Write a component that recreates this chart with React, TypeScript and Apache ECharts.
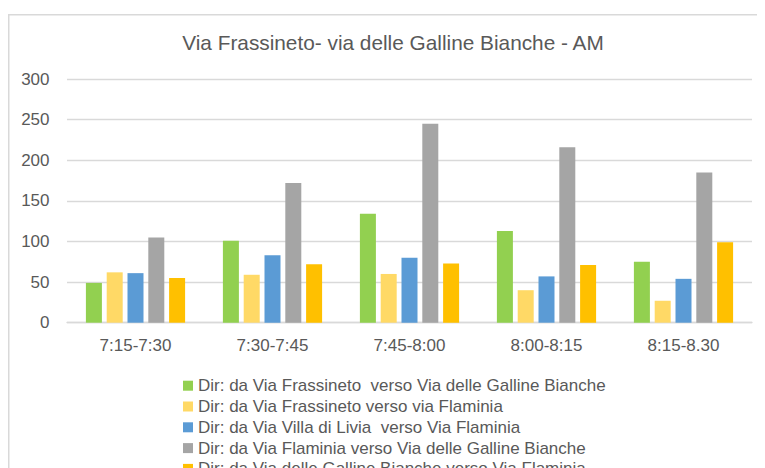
import React, { useEffect, useRef } from "react";
import * as echarts from "echarts";

const titleText = "Via Frassineto- via delle Galline Bianche - AM";
const categories = ["7:15-7:30", "7:30-7:45", "7:45-8:00", "8:00-8:15", "8:15-8.30"];
const seriesNames = [
  "Dir: da Via Frassineto  verso Via delle Galline Bianche",
  "Dir: da Via Frassineto verso via Flaminia",
  "Dir: da Via Villa di Livia  verso Via Flaminia",
  "Dir: da Via Flaminia verso Via delle Galline Bianche",
  "Dir: da Via delle Galline Bianche verso Via Flaminia",
];
const greenValues = [49, 101, 134, 113, 75];
const lightYellowValues = [62, 59, 60, 40, 27];
const blueValues = [61, 83, 80, 57, 54];
const grayValues = [105, 172, 245, 216, 185];
const orangeValues = [55, 72, 73, 71, 99];
const seriesColors = ["#92D050", "#FFD966", "#5B9BD5", "#A5A5A5", "#FFC000"];
const yTicks = { min: 0, max: 300, interval: 50 };

const FONT = "'Liberation Sans', Arial, sans-serif";
const TEXT_COLOR = "#595959";

export default function App() {
  const ref = useRef<HTMLDivElement>(null);
  useEffect(() => {
    if (!ref.current) return;
    const chart = echarts.init(ref.current, undefined, { renderer: "svg" });
    const allValues = [greenValues, lightYellowValues, blueValues, grayValues, orangeValues];
    chart.setOption({
      animation: false,
      backgroundColor: "#ffffff",
      textStyle: { fontFamily: FONT },
      graphic: [
        {
          type: "rect",
          shape: { x: 0.75, y: 6.75, width: 900, height: 600 },
          style: { fill: "none", stroke: "#D9D9D9", lineWidth: 1.5 },
          silent: true,
          z: -10,
        },
        {
          type: "text",
          x: 385,
          y: 34,
          style: {
            text: titleText,
            fontSize: 20.8,
            fontFamily: FONT,
            fill: TEXT_COLOR,
            textAlign: "center",
            textVerticalAlign: "middle",
          },
        },
      ],
      grid: { left: 59, right: 13, top: 71, bottom: 165.3, containLabel: false },
      legend: {
        orient: "vertical",
        left: 170,
        top: 364.2,
        itemWidth: 10,
        itemHeight: 10,
        itemGap: 3.8,
        icon: "rect",
        textStyle: { fontSize: 17, lineHeight: 17, color: TEXT_COLOR, fontFamily: FONT },
        data: seriesNames,
      },
      xAxis: {
        type: "category",
        data: categories,
        axisLine: { lineStyle: { color: "#D9D9D9", width: 1.3 } },
        axisTick: { show: false },
        axisLabel: { fontSize: 17, color: TEXT_COLOR, margin: 14, fontFamily: FONT },
      },
      yAxis: {
        type: "value",
        min: yTicks.min,
        max: yTicks.max,
        interval: yTicks.interval,
        axisLine: { show: false },
        axisTick: { show: false },
        axisLabel: { fontSize: 17, color: TEXT_COLOR, margin: 17.5, fontFamily: FONT },
        splitLine: { lineStyle: { color: "#D9D9D9", width: 1.3 } },
      },
      series: seriesNames.map((name, i) => ({
        name,
        type: "bar",
        data: allValues[i],
        barWidth: 16,
        barGap: "30%",
        itemStyle: { color: seriesColors[i] },
      })),
    });
    return () => chart.dispose();
  }, []);
  return <div ref={ref} style={{ width: 757, height: 480 }} />;
}
